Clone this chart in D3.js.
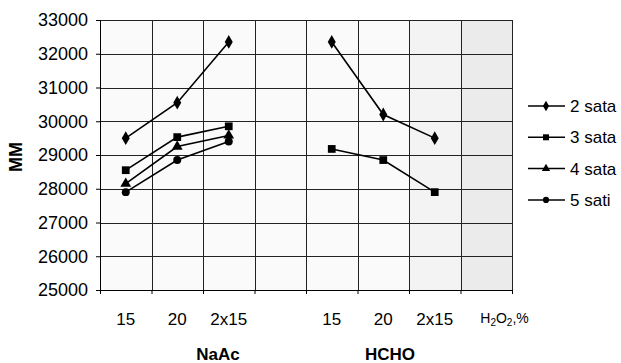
<!DOCTYPE html>
<html><head><meta charset="utf-8">
<script src="https://cdn.jsdelivr.net/npm/d3@7"></script>
<style>
html,body{margin:0;padding:0;background:#fff;}
svg{display:block;font-family:"Liberation Sans",Arial,sans-serif;}
</style></head>
<body><svg id="c" width="621" height="363"></svg>
<script>
const categories = ["15","20","2x15","","15","20","2x15","H2O2,%"];
const groupLabels = ["NaAc","HCHO"];
const seriesNames = ["2 sata","3 sata","4 sata","5 sati"];
const sata2 = [29500, 30550, 32350, null, 32350, 30200, 29500, null];
const sata3 = [28550, 29530, 29850, null, 29180, 28850, 27900, null];
const sata4 = [28150, 29250, 29580, null, null, null, null, null];
const sati5 = [27900, 28850, 29400, null, null, null, null, null];
const yTicks = [25000,26000,27000,28000,29000,30000,31000,32000,33000];
const symbols = [d3.symbolDiamond, d3.symbolSquare, d3.symbolTriangle, d3.symbolCircle];
const symSizes = [55, 60, 50, 50];
const allSeries = [sata2, sata3, sata4, sati5];

const svg = d3.select("#c");
const L = 100, R = 512, T = 20, B = 290;
const x = d3.scaleBand().domain(d3.range(categories.length)).range([L, R]);
const xEdge = d3.scaleLinear().domain([0, categories.length]).range([L, R]);
const y = d3.scaleLinear().domain([25000, 33000]).range([B, T]);

// background
svg.append("rect").attr("x", L).attr("y", T).attr("width", R - L).attr("height", B - T).attr("fill", "#fafafa");
svg.append("rect").attr("x", xEdge(7)).attr("y", T).attr("width", x.bandwidth()).attr("height", B - T).attr("fill", "#ebebeb");
svg.append("rect").attr("x", xEdge(6)).attr("y", T).attr("width", x.bandwidth()).attr("height", B - T).attr("fill", "#f3f3f3");

// grid
const grid = svg.append("g").attr("stroke", "#222").attr("stroke-width", 1);
grid.selectAll("line.h").data(yTicks).join("line")
  .attr("x1", L).attr("x2", R).attr("y1", d => Math.round(y(d)) + 0.5).attr("y2", d => Math.round(y(d)) + 0.5);
grid.selectAll("line.v").data(d3.range(1, categories.length + 1)).join("line")
  .attr("y1", T).attr("y2", B).attr("x1", d => Math.round(xEdge(d)) + 0.5).attr("x2", d => Math.round(xEdge(d)) + 0.5);

// y axis
const yAxis = svg.append("g").attr("transform", `translate(${L},0)`)
  .call(d3.axisLeft(y).tickValues(yTicks).tickFormat(d3.format("d")).tickSize(4).tickPadding(8));
yAxis.selectAll("text").attr("font-size", 18).attr("fill", "#000").attr("font-family", "Liberation Sans, Arial");
yAxis.selectAll("line,path").attr("stroke", "#000");

// x axis ticks at edges
const xAxis = svg.append("g").attr("transform", `translate(0,${B})`)
  .call(d3.axisBottom(xEdge).tickValues(d3.range(0, categories.length + 1)).tickFormat("").tickSize(4).tickSizeOuter(0));
xAxis.selectAll("line,path").attr("stroke", "#000");

// x labels
const xl = svg.append("g").attr("transform", `translate(0,${B})`)
  .call(d3.axisBottom(x).tickFormat(i => categories[i]).tickSize(0).tickPadding(23));
xl.select("path").remove();
xl.selectAll("text").attr("font-size", 17).attr("fill", "#000").attr("font-family", "Liberation Sans, Arial");
xl.selectAll("text").filter(i => categories[i] === "H2O2,%").each(function(i) {
  const t = d3.select(this).text("").attr("font-size", 14).attr("text-anchor", "start")
    .attr("x", -6);
  t.append("tspan").text("H");
  t.append("tspan").text("2").attr("font-size", 10).attr("dy", 3);
  t.append("tspan").text("O").attr("dy", -3);
  t.append("tspan").text("2").attr("font-size", 10).attr("dy", 3);
  t.append("tspan").text(",%").attr("dy", -3);
});

// group labels
svg.append("text").attr("x", 218).attr("y", 360).attr("text-anchor", "middle")
  .attr("font-weight", "bold").attr("font-size", 17).text(groupLabels[0]);
svg.append("text").attr("x", 390).attr("y", 360).attr("text-anchor", "middle")
  .attr("font-weight", "bold").attr("font-size", 17).text(groupLabels[1]);

// y title
svg.append("text").attr("transform", "translate(22,157) rotate(-90)").attr("text-anchor", "middle")
  .attr("font-weight", "bold").attr("font-size", 18).text("MM");

// series
const line = d3.line().defined(d => d.v != null).x(d => x(d.i) + x.bandwidth() / 2).y(d => y(d.v));
allSeries.forEach((s, k) => {
  const pts = s.map((v, i) => ({ i, v }));
  svg.append("path").datum(pts).attr("d", line).attr("fill", "none").attr("stroke", "#000").attr("stroke-width", 1.6);
  svg.selectAll(null).data(pts.filter(d => d.v != null)).join("path")
    .attr("transform", d => `translate(${x(d.i) + x.bandwidth() / 2},${y(d.v)})`)
    .attr("d", d3.symbol().type(symbols[k]).size(symSizes[k])).attr("fill", "#000");
});

// legend
const lg = svg.append("g");
seriesNames.forEach((n, k) => {
  const yy = 106 + k * 31.3;
  lg.append("line").attr("x1", 528).attr("x2", 565).attr("y1", yy).attr("y2", yy)
    .attr("stroke", "#000").attr("stroke-width", 1.5);
  lg.append("path").attr("transform", `translate(546,${yy})`)
    .attr("d", d3.symbol().type(symbols[k]).size(symSizes[k] * 0.6)).attr("fill", "#000");
  lg.append("text").attr("x", 570).attr("y", yy + 6).attr("font-size", 17).text(n);
});
</script></body></html>
